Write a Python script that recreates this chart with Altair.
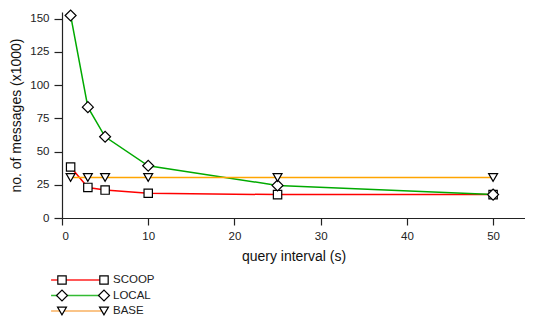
import altair as alt
import pandas as pd

interval = [1, 3, 5, 10, 25, 50]
scoop = [38.4, 23.0, 21.0, 18.6, 17.6, 17.6]
local = [152.4, 83.4, 61.1, 39.3, 24.5, 17.6]
base = [30.5, 30.5, 30.5, 30.5, 30.5, 30.5]

series = ["SCOOP", "LOCAL", "BASE"]
line_colors = ["#ff0000", "#00aa00", "#ffa500"]
legend_colors = ["#ff2020", "#33bb33", "#f8b060"]
shapes = ["square", "diamond", "triangle-down"]
marker_sizes = [70, 120, 80]

rows = []
for name, vals, col, shp, sz in zip(series, [scoop, local, base], line_colors, shapes, marker_sizes):
    for xv, yv in zip(interval, vals):
        rows.append({"series": name, "x": xv, "y": yv, "col": col, "shp": shp, "sz": sz})
df = pd.DataFrame(rows)

FONT = "Liberation Sans"

xs = alt.Scale(domain=[0, 53.7], nice=False, zero=False)
ys = alt.Scale(domain=[0, 155], nice=False)

xenc = alt.X("x:Q", scale=xs, axis=alt.Axis(values=[0, 10, 20, 30, 40, 50], title="query interval (s)",
                                           tickSize=7, labelPadding=5, titlePadding=8, grid=False,
                                           labelOverlap=False))
yenc = alt.Y("y:Q", scale=ys, axis=alt.Axis(values=[0, 25, 50, 75, 100, 125, 150], title="no. of messages (x1000)",
                                           tickSize=8, labelPadding=5, titlePadding=6, grid=False,
                                           labelOverlap=False))

base_chart = alt.Chart(df).encode(x=xenc, y=yenc)
lines = base_chart.mark_line(strokeWidth=1.5).encode(
    color=alt.Color("col:N", scale=None),
    detail="series:N",
)
points = base_chart.mark_point(filled=True, fill="white", stroke="black", strokeWidth=1.2, opacity=1).encode(
    shape=alt.Shape("shp:N", scale=None),
    size=alt.Size("sz:Q", scale=None),
)

# legend table
leg_rows = []
for name, col in zip(series, legend_colors):
    leg_rows.append({"series": name, "lx": -0.26, "col": col})
    leg_rows.append({"series": name, "lx": 1.0, "col": col})
leg = pd.DataFrame(leg_rows)
mk_rows = []
for name, shp, sz in zip(series, shapes, marker_sizes):
    mk_rows.append({"series": name, "lx": 0.0, "shp": shp, "sz": sz})
    mk_rows.append({"series": name, "lx": 1.0, "shp": shp, "sz": sz})
mk = pd.DataFrame(mk_rows)
lab = pd.DataFrame({"series": series, "lx": [1.0] * 3})

lxs = alt.Scale(domain=[0, 1], range=[0, 42])
lys = alt.Scale(domain=series, range=[268, 299], padding=0)

leg_x = alt.X("lx:Q", scale=lxs, axis=None)
leg_y = alt.Y("series:N", scale=lys, axis=None)

leg_lines = alt.Chart(leg).mark_line(strokeWidth=1.5).encode(
    x=leg_x, y=leg_y,
    color=alt.Color("col:N", scale=None),
    detail="series:N",
)
leg_pts = alt.Chart(mk).mark_point(filled=True, fill="white", stroke="black", strokeWidth=1.2, opacity=1).encode(
    x=leg_x, y=leg_y,
    shape=alt.Shape("shp:N", scale=None),
    size=alt.Size("sz:Q", scale=None),
)
leg_txt = alt.Chart(lab).mark_text(align="left", baseline="middle", dx=9, fontSize=11.5, font=FONT, color="#222").encode(
    x=leg_x, y=leg_y,
    text="series:N",
)

main = alt.layer(lines, points)
legend = alt.layer(leg_lines, leg_pts, leg_txt)

chart = alt.layer(main, legend).resolve_scale(x="independent", y="independent").properties(
    width=463, height=206,
    autosize=alt.AutoSizeParams(type="none"),
    padding={"left": 54, "top": 4, "right": 0, "bottom": 99},
).configure_view(stroke=None).configure_axis(
    domainColor="#222", tickColor="#222", labelColor="#222", titleColor="#111",
    labelFont=FONT, titleFont=FONT, labelFontSize=11.5, titleFontSize=14, titleFontWeight="normal",
    domainWidth=1.2, tickWidth=1.2,
)

chart.save("out.html", embed_options={"renderer": "svg", "actions": False})
